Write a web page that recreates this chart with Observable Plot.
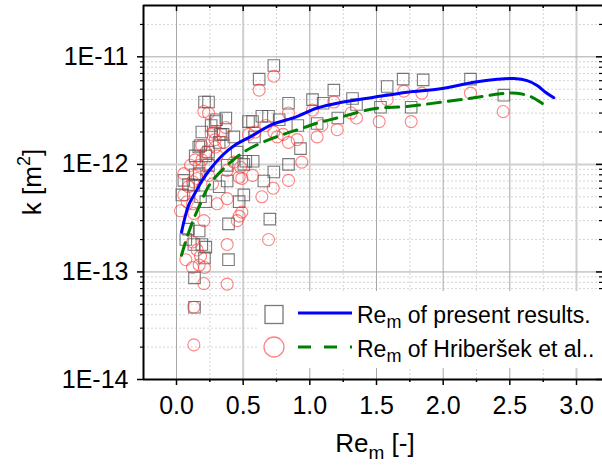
<!DOCTYPE html>
<html><head><meta charset="utf-8">
<script src="https://cdn.jsdelivr.net/npm/d3@7"></script>
<script src="https://cdn.jsdelivr.net/npm/@observablehq/plot@0.6"></script>
<style>html,body{margin:0;padding:0;background:#fff} svg{display:block}</style>
</head><body><div id="chart"></div>
<script>
// ---- data ----
// present results (squares)
const presentRe = [0.73,0.62,0.21,0.24,0.84,0.37,0.30,0.54,0.57,0.64,0.69,0.77,0.91,0.26,0.19,0.35,0.43,0.585,0.32,0.18,0.24,0.22,0.14,0.455,0.93,0.52,0.575,0.84,0.38,0.24,0.17,0.14,0.73,0.055,0.09,0.13,0.38,0.655,0.32,0.04,0.22,0.18,0.505,0.47,0.39,0.70,0.17,0.09,0.07,0.13,0.19,0.22,0.21,0.39,0.135,0.135,1.02,1.18,1.32,1.35,1.10,1.055,1.21,1.58,1.70,1.85,2.205,2.455,1.53,1.76,0.33,0.167,0.505,0.29];
const presentK = [8.3e-12,6.2e-12,3.8e-12,3.8e-12,3.7e-12,2.7e-12,2.6e-12,2.5e-12,2.5e-12,2.8e-12,2.8e-12,2.6e-12,2.3e-12,2.3e-12,2.0e-12,1.9e-12,1.8e-12,1.8e-12,1.6e-12,1.5e-12,1.3e-12,1.2e-12,1.2e-12,1.3e-12,1.4e-12,1.07e-12,1.07e-12,1.0e-12,9.8e-13,9.8e-13,8.2e-13,8.0e-13,8.5e-13,7.1e-13,6.5e-13,6.4e-13,7.0e-13,7.0e-13,6.2e-13,5.2e-13,4.5e-13,5.0e-13,5.2e-13,4.5e-13,2.8e-13,3.1e-13,2.4e-13,2.5e-13,2.0e-13,1.8e-13,1.8e-13,1.7e-13,1.35e-13,1.3e-13,8.8e-14,4.7e-14,4.0e-12,4.9e-12,4.1e-12,3.6e-12,3.7e-12,2.4e-12,2.7e-12,5.3e-12,6.2e-12,6.1e-12,6.2e-12,4.4e-12,3.4e-12,3.4e-12,1.9e-12,1.45e-12,1.0e-12,2.5e-12];
// Hriberšek et al. (circles)
const hribRe = [0.73,0.62,0.205,0.24,0.37,0.28,0.26,0.29,0.355,0.54,0.59,0.67,0.73,0.80,0.84,0.905,0.94,0.22,0.19,0.17,0.14,0.305,0.43,0.57,0.47,0.49,0.38,0.24,0.27,0.155,0.12,0.09,0.84,0.725,0.64,0.38,0.305,0.055,0.08,0.12,0.03,0.49,0.47,0.455,0.205,0.13,0.69,0.38,0.12,0.155,0.18,0.07,0.17,0.21,0.12,0.205,0.38,0.13,0.13,0.84,1.02,1.18,1.09,1.055,1.205,1.31,1.35,1.52,0.755,1.58,1.705,1.84,2.205,2.45,1.76,0.29,0.19,0.48,0.055,0.105];
const hribK = [6.6e-12,4.9e-12,3.1e-12,3.0e-12,2.2e-12,2.0e-12,1.9e-12,1.7e-12,1.6e-12,1.9e-12,2.0e-12,2.3e-12,2.0e-12,1.9e-12,1.6e-12,1.7e-12,1.05e-12,1.3e-12,1.1e-12,9.8e-13,1.1e-12,1.2e-12,1.05e-12,7.9e-13,7.6e-13,7.4e-13,8.8e-13,7.9e-13,6.6e-13,7.4e-13,6.9e-13,6.2e-13,7.1e-13,6.0e-13,5.0e-13,4.8e-13,4.3e-13,5.2e-13,4.5e-13,4.3e-13,3.7e-13,3.6e-13,3.3e-13,3.0e-13,3.0e-13,3.5e-13,2.0e-13,1.8e-13,1.9e-13,1.6e-13,1.4e-13,1.3e-13,1.16e-13,1.1e-13,1.1e-13,7.8e-14,7.7e-14,4.7e-14,2.1e-14,3.0e-12,3.2e-12,3.8e-12,2.3e-12,1.8e-12,2.1e-12,3.0e-12,2.7e-12,2.5e-12,1.8e-12,4.0e-12,4.8e-12,4.6e-12,4.6e-12,3.1e-12,2.5e-12,1.45e-12,1.5e-12,9.4e-13,8.2e-13,9.8e-13];
// fitted curves
const fitPresentRe = [0.0375,0.092,0.1425,0.193,0.255,0.343,0.4425,0.566,0.718,0.8925,1.055,1.23,1.48,1.73,1.98,2.23,2.405,2.53,2.63,2.705,2.7675,2.83];
const fitPresentK = [2.35e-13,4.2e-13,5.5e-13,7.1e-13,9.1e-13,1.21e-12,1.52e-12,1.84e-12,2.35e-12,2.75e-12,3.34e-12,3.76e-12,4.21e-12,4.69e-12,5.04e-12,5.80e-12,6.18e-12,6.28e-12,6.01e-12,5.41e-12,4.69e-12,4.16e-12];
const fitHribRe = [0.0375,0.08,0.13,0.18,0.23,0.2925,0.38,0.467,0.57,0.7425,0.943,1.055,1.23,1.48,1.73,1.98,2.23,2.43,2.555,2.655,2.73,2.78];
const fitHribK = [1.43e-13,2.12e-13,3.13e-13,4.32e-13,5.95e-13,7.62e-13,9.8e-13,1.21e-12,1.45e-12,1.79e-12,2.17e-12,2.42e-12,2.75e-12,3.29e-12,3.45e-12,3.78e-12,4.16e-12,4.53e-12,4.58e-12,4.27e-12,3.78e-12,3.40e-12];
// ticks
const xMajor = [0, 0.5, 1, 1.5, 2, 2.5, 3];
const xTickLabels = ["0.0","0.5","1.0","1.5","2.0","2.5","3.0"];
const xMinor = [0.25, 0.75, 1.25, 1.75, 2.25, 2.75];
const yMajor = [1e-14, 1e-13, 1e-12, 1e-11];
const yTickLabels = ["1E-14","1E-13","1E-12","1E-11"];
const yMinorMult = [2,3,4,5,6,7,8,9];
const yMinor = [];
for (const dec of yMajor) for (const m of yMinorMult) { const v = dec*m; if (v < 2.5e-11) yMinor.push(v); }
const legendLabels = [["Re","m"," of present results."],["Re","m"," of Hriberšek et al.."]];
const xTitle = ["Re","m"," [-]"];
const yTitle = ["k [m","2","]"];

// ---- layout ----
const W = 602, H = 468, mL = 143, mR = 0, mT = 5, mB = 89;
const plotW = W - mL - mR, plotH = H - mT - mB;
const xDomain = [-0.2475, 3.195];
const yDomain = [1e-14, 3e-11];
const font = "'Liberation Sans', Arial, Helvetica, sans-serif";

const squares = presentRe.map((x,i)=>({x, k: presentK[i]}));
const circles = hribRe.map((x,i)=>({x, k: hribK[i]}));
const fitP = fitPresentRe.map((x,i)=>({x, k: fitPresentK[i]}));
const fitH = fitHribRe.map((x,i)=>({x, k: fitHribK[i]}));

const chart = Plot.plot({
  width: W, height: H,
  marginLeft: mL, marginRight: mR, marginTop: mT, marginBottom: mB,
  style: {fontFamily: font, fontSize: "25px", background: "white", color: "black", overflow: "visible"},
  x: {domain: xDomain, label: null, axis: null},
  y: {type: "log", domain: yDomain, label: null, axis: null},
  marks: [
    // minor grid
    Plot.gridX(xMinor, {stroke: "#d4d4d4", strokeOpacity: 1, strokeDasharray: "2,2"}),
    Plot.gridY(yMinor, {stroke: "#d4d4d4", strokeOpacity: 1, strokeDasharray: "2,2"}),
    // major grid
    Plot.gridX(xMajor.filter(d => d !== 0.5 && d !== 3), {stroke: "#a8a8a8", strokeOpacity: 1}),
    Plot.gridX([0.5, 3], {stroke: "#cfcfcf", strokeOpacity: 1, strokeWidth: 2}),
    Plot.gridY([1e-13, 1e-11], {stroke: "#a8a8a8", strokeOpacity: 1}),
    Plot.gridY([1e-12], {stroke: "#cfcfcf", strokeOpacity: 1, strokeWidth: 2}),
    // scatter
    Plot.dot(squares, {x: "x", y: "k", symbol: "square", r: 6.5, stroke: "#4d4d4d", strokeOpacity: 0.75, strokeWidth: 1.1, fill: "none"}),
    Plot.dot(circles, {x: "x", y: "k", r: 6, stroke: "#ff3030", strokeOpacity: 0.6, strokeWidth: 1.1, fill: "none"}),
    // fitted curves
    Plot.line(fitP, {x: "x", y: "k", stroke: "#0000ff", strokeWidth: 3, curve: "catmull-rom"}),
    Plot.line(fitH, {x: "x", y: "k", stroke: "#008000", strokeWidth: 3, strokeDasharray: "13,8", curve: "catmull-rom"}),
    // frame (left, bottom, top)
    Plot.ruleX([xDomain[0]], {stroke: "black", strokeWidth: 2}),
    Plot.ruleY([yDomain[0]], {stroke: "black", strokeWidth: 2}),
    Plot.ruleY([yDomain[1]], {stroke: "black", strokeWidth: 2}),
    // bottom axis
    Plot.axisX({ticks: xMajor, tickSize: 6, tickPadding: 11, strokeWidth: 1.5, label: null,
                tickFormat: d => xTickLabels[xMajor.indexOf(d)]}),
    Plot.tickX(xMinor, {x: d => d, insetTop: plotH, insetBottom: -3, stroke: "black", strokeWidth: 1.5}),
    // top inward ticks
    Plot.tickX(xMajor, {x: d => d, insetBottom: plotH - 6, stroke: "black", strokeWidth: 1.5}),
    Plot.tickX(xMinor, {x: d => d, insetBottom: plotH - 3, stroke: "black", strokeWidth: 1.5}),
    // left axis
    Plot.axisY({ticks: yMajor, tickSize: 6, tickPadding: 9, strokeWidth: 1.5, label: null,
                tickFormat: d => yTickLabels[yMajor.indexOf(d)]}),
    Plot.tickY(yMinor, {y: d => d, insetLeft: -3, insetRight: plotW, stroke: "black", strokeWidth: 1.2}),
    // right inward ticks
    Plot.tickY(yMajor, {y: d => d, insetLeft: plotW - 6, stroke: "black", strokeWidth: 1.5}),
    Plot.tickY(yMinor, {y: d => d, insetLeft: plotW - 3, stroke: "black", strokeWidth: 1.2})
  ]
});
document.getElementById("chart").appendChild(chart);

// ---- titles & legend (added to the SVG) ----
const svg = d3.select(chart);
function richText(g, parts, size, subSize, shift) {
  g.append("tspan").text(parts[0]);
  g.append("tspan").attr("font-size", subSize).attr("dy", shift).text(parts[1]);
  g.append("tspan").attr("font-size", size).attr("dy", -shift).text(parts[2]);
}
const xt = svg.append("text").attr("x", 375).attr("y", 452).attr("text-anchor", "middle")
  .attr("font-family", font).attr("font-size", 26).attr("fill", "black");
richText(xt, xTitle, 26, 19, 7);
const yt = svg.append("text").attr("transform", "translate(41,182) rotate(-90)").attr("text-anchor", "middle")
  .attr("font-family", font).attr("font-size", 26).attr("fill", "black");
richText(yt, yTitle, 26, 18, -11);

const lg = svg.append("g").attr("font-family", font).attr("font-size", 23).attr("fill", "black")
  .attr("text-anchor", "start");
lg.append("rect").attr("x", 259).attr("y", 291).attr("width", 343).attr("height", 77)
  .attr("fill", "#ffffff").style("fill", "#ffffff").style("stroke", "none");
lg.append("rect").attr("x", 265).attr("y", 305.5).attr("width", 18).attr("height", 18)
  .style("fill", "none").attr("stroke", "#4d4d4d").attr("stroke-opacity", 0.75).attr("stroke-width", 1.3);
lg.append("line").attr("x1", 298).attr("x2", 352).attr("y1", 313).attr("y2", 313)
  .attr("stroke", "#0000ff").attr("stroke-width", 3);
lg.append("circle").attr("cx", 274).attr("cy", 347).attr("r", 10)
  .style("fill", "none").attr("stroke", "#ff3030").attr("stroke-opacity", 0.6).attr("stroke-width", 1.3);
lg.append("line").attr("x1", 298).attr("x2", 352).attr("y1", 347).attr("y2", 347)
  .attr("stroke", "#008000").attr("stroke-width", 3).attr("stroke-dasharray", "13,13");
const l1 = lg.append("text").attr("x", 357).attr("y", 323).attr("text-anchor", "start");
richText(l1, legendLabels[0], 23, 18, 5);
const l2 = lg.append("text").attr("x", 357).attr("y", 356.5).attr("text-anchor", "start");
richText(l2, legendLabels[1], 23, 18, 5);
</script>
</body></html>
